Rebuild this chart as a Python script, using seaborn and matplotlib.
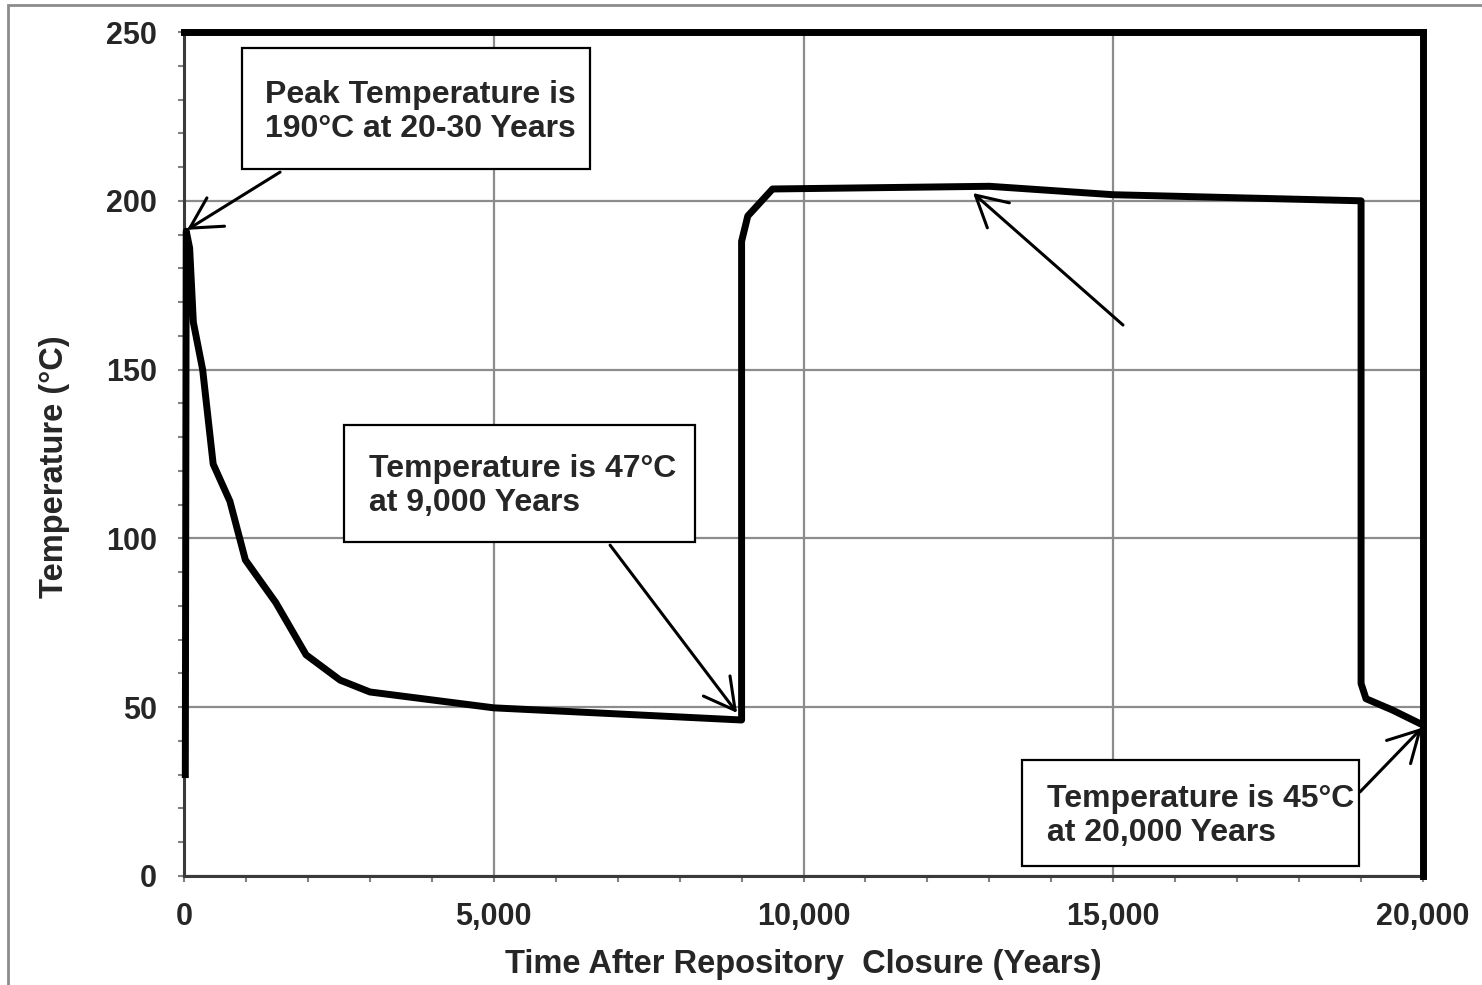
import matplotlib
matplotlib.use("Agg")
import matplotlib.pyplot as plt
from matplotlib.patches import Rectangle
from matplotlib.ticker import MultipleLocator, FuncFormatter
import seaborn as sns
import pandas as pd

# temperature history
years = [20, 35, 90, 150, 300, 470, 740, 990, 1480, 1970, 2520, 3000, 5000,
         9000, 9000, 9100, 9500, 13000, 15000, 19000, 19000, 19080, 19500, 20000]
temps = [29, 191, 186, 164, 150, 122, 111, 93.6, 81, 65.5, 58, 54.5, 49.8,
         46.2, 188, 195.5, 203.5, 204.3, 201.8, 200, 57, 52.5, 49.2, 44.7]

notes = ["Peak Temperature is\n190°C at 20-30 Years",
         "Temperature is 47°C\nat 9,000 Years",
         "Temperature is 45°C\nat 20,000 Years"]

df = pd.DataFrame({"years": years, "temp": temps})

sns.set_theme(style="white")
plt.rcParams["font.family"] = ["Liberation Sans", "DejaVu Sans"]
plt.rcParams["font.weight"] = "bold"

fig = plt.figure(figsize=(14.82, 9.85), dpi=100)
ax = fig.add_axes([0.1242, 0.1107, 0.8360, 0.8568])

# outer grey frame of the picture
fig.patches.append(Rectangle((8 / 1482, -0.02), 1.02, 1 - 5 / 985 + 0.02,
                             transform=fig.transFigure, fill=False,
                             edgecolor="#8c8c8c", lw=2, zorder=0))

ax.grid(True, color="#8c8c8c", lw=1.6)
ax.set_axisbelow(True)

sns.lineplot(data=df, x="years", y="temp", sort=False, estimator=None,
             color="black", lw=5, ax=ax, solid_joinstyle="round",
             solid_capstyle="butt", zorder=3, clip_on=False)

ax.set_xlim(0, 20000)
ax.set_ylim(0, 250)
ax.xaxis.set_major_locator(MultipleLocator(5000))
ax.xaxis.set_minor_locator(MultipleLocator(1000))
ax.yaxis.set_major_locator(MultipleLocator(50))
ax.yaxis.set_minor_locator(MultipleLocator(10))
ax.xaxis.set_major_formatter(FuncFormatter(lambda v, p: f"{int(v):,}"))
ax.tick_params(which="both", direction="out", length=4.5, width=1.5,
               color="#808080", bottom=True, left=True)
ax.tick_params(axis="x", labelsize=22, pad=14)
ax.tick_params(axis="y", labelsize=22, pad=15)
for lab in ax.get_xticklabels() + ax.get_yticklabels():
    lab.set_fontweight("bold")

for s in ["left", "bottom"]:
    ax.spines[s].set_color("#3a3a3a")
    ax.spines[s].set_linewidth(2.2)
for s in ["top", "right"]:
    ax.spines[s].set_color("black")
    ax.spines[s].set_linewidth(5)
    ax.spines[s].set_capstyle("projecting")
    ax.spines[s].set_zorder(4)

ax.set_xlabel("Time After Repository  Closure (Years)", fontsize=23.5, fontweight="bold")
ax.set_ylabel("Temperature (°C)", fontsize=23.5, fontweight="bold")
ax.xaxis.set_label_coords(0.5, -0.087)
ax.yaxis.set_label_coords(-0.092, 0.485)

# annotation boxes
boxes = [(931, 209.3, 5623, 35.9), (2583, 99.0, 5666, 34.6), (13522, 3.0, 5445, 31.4)]
text_pos = [(1307, 226.2), (2986, 115.5), (13926, 17.7)]
for (bx, by, bw, bh), (tx, ty), note in zip(boxes, text_pos, notes):
    ax.add_patch(Rectangle((bx, by), bw, bh, facecolor="white", edgecolor="black",
                           lw=1.6, zorder=5))
    ax.text(tx, ty, note, ha="left", va="center", fontsize=23,
            fontweight="bold", linespacing=1.18, zorder=6)

arrows = [((48, 191.4), (1550, 208.5)),
          ((8927, 48.3), (6877, 98.0)),
          ((12736, 202.3), (15157, 163.2)),
          ((19984, 43.9), (18983, 24.9))]
for tip, tail in arrows:
    ax.annotate("", xy=tip, xytext=tail,
                arrowprops=dict(arrowstyle="->,head_length=1.1,head_width=0.6",
                                color="black", lw=2.2, shrinkA=0, shrinkB=0,
                                mutation_scale=20),
                zorder=6)

fig.savefig("out.png", dpi=100)
